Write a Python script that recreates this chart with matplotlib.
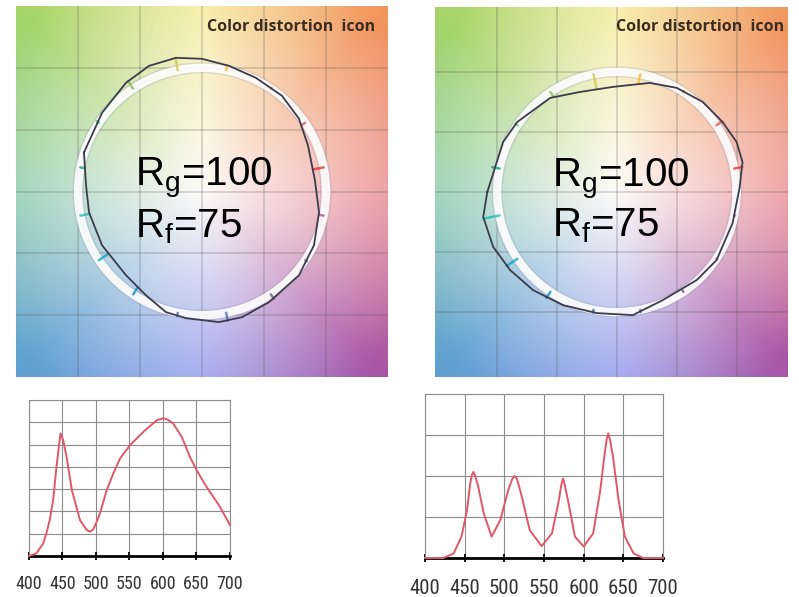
import numpy as np
import matplotlib.pyplot as plt
from matplotlib import font_manager

plt.rcParams['font.family'] = ['Liberation Sans', 'DejaVu Sans']
plt.rcParams['mathtext.fontset'] = 'custom'
plt.rcParams['mathtext.rm'] = 'Liberation Sans'
plt.rcParams['mathtext.it'] = 'Liberation Sans'
plt.rcParams['mathtext.default'] = 'regular'

# 16 hue bins of the colour vector graphic
bin_angles = np.arange(16) * 22.5 + 11.25
bin_colors = ['#e62828', '#e74b4b', '#fb812e', '#ffb529', '#cbca46', '#7eb94c',
              '#41c06d', '#009c7c', '#16bcb0', '#00a4bf', '#0085c3', '#3b62aa',
              '#4568ae', '#6a4e85', '#9d69a1', '#a74f81']

# test source contours (reference circle has radius 1)
left_x = [-0.952, -0.806, -0.613, -0.427, -0.210, 0.000, 0.218, 0.435, 0.645, 0.782,
          0.855, 0.911, 0.944, 0.903, 0.782, 0.540, 0.323, 0.137, -0.129, -0.290,
          -0.452, -0.613, -0.806, -0.911, -0.935]
left_y = [0.315, 0.637, 0.879, 1.016, 1.081, 1.073, 1.016, 0.919, 0.774, 0.589,
          0.371, 0.089, -0.169, -0.435, -0.677, -0.895, -1.016, -1.056, -1.024, -0.976,
          -0.839, -0.677, -0.435, -0.169, 0.048]
right_x = [-1.083, -0.950, -0.833, -0.558, -0.308, -0.033, 0.275, 0.500, 0.717, 0.883,
           1.000, 1.050, 1.025, 0.967, 0.833, 0.667, 0.383, 0.133, -0.167, -0.450,
           -0.700, -0.892, -1.033, -1.117]
right_y = [0.000, 0.417, 0.583, 0.783, 0.833, 0.875, 0.908, 0.867, 0.750, 0.583,
           0.417, 0.250, 0.033, -0.258, -0.567, -0.733, -0.900, -1.025, -1.008, -0.942,
           -0.817, -0.650, -0.458, -0.208]

rg_values = [100, 100]
rf_values = [75, 75]

# spectral power distributions (relative)
left_nm = [400, 411, 421, 426, 431, 436, 441, 444, 447, 451, 456, 464, 476, 486, 491,
           496, 501, 506, 516, 526, 536, 551, 571, 591, 601, 607, 615, 628, 640, 650,
           665, 685, 700]
left_pw = [0, 0.12, 0.55, 1.02, 1.62, 2.5, 4.0, 4.75, 5.5, 5.2, 4.46, 2.96, 1.62, 1.17,
           1.09, 1.2, 1.54, 1.92, 2.96, 3.71, 4.38, 4.98, 5.58, 6.1, 6.18, 6.12, 5.95,
           5.35, 4.46, 3.86, 3.1, 2.21, 1.39]
right_nm = [400, 423, 436, 446, 453, 457, 459, 461, 463, 467, 474, 484, 495, 505,
            510, 513, 516, 522, 532, 547, 560, 568, 572, 574, 576, 581, 589, 600,
            612, 621, 626, 629, 631, 633, 637, 644, 652, 663, 675, 700]
right_pw = [0, 0, 0.11, 0.52, 1.17, 1.82, 2.02, 2.1, 2.02, 1.75, 1.09, 0.52, 0.93, 1.66,
            1.93, 2.0, 1.93, 1.5, 0.68, 0.29, 0.6, 1.33, 1.8, 1.94, 1.8, 1.33, 0.52, 0.28,
            0.6, 1.66, 2.47, 2.9, 3.04, 2.9, 2.47, 1.41, 0.52, 0.11, 0, 0]

# background hue field anchors (angle in degrees, rgb at the rim)
hue_anchor_deg = [0, 45, 90, 135, 180, 225, 270, 315, 360]
hue_anchor_rgb = [(235, 135, 140), (242, 150, 95), (246, 236, 150), (165, 212, 105),
                  (135, 202, 170), (95, 160, 210), (140, 150, 238), (170, 85, 165),
                  (235, 135, 140)]


def first_font(names, default):
    for name in names:
        try:
            font_manager.findfont(font_manager.FontProperties(family=name),
                                  fallback_to_default=False)
            return name
        except ValueError:
            pass
    return default


NARROW = first_font(['Liberation Sans Narrow', 'Roboto Condensed', 'Open Sans Condensed',
                     'Arial Narrow'], None)
LABEL_FONT = first_font(['Open Sans', 'Lato'], 'DejaVu Sans')


def hue_field(n=320, lim=1.6):
    g = np.linspace(-lim, lim, n)
    X, Y = np.meshgrid(g, g)
    ang = np.degrees(np.arctan2(Y, X)) % 360
    r = np.hypot(X, Y)
    cols = np.array(hue_anchor_rgb) / 255.0
    rgb = np.stack([np.interp(ang, hue_anchor_deg, cols[:, i]) for i in range(3)], -1)
    t = (np.clip(r / 1.95, 0, 1) ** 1.05)[..., None]
    white = np.array([0.99, 0.98, 0.97])
    return (1 - t) * white + t * rgb


def draw_icon(ax, cx, cy, rg, rf, xlim, ylim):
    ax.imshow(hue_field(), extent=(-1.6, 1.6, -1.6, 1.6), origin='lower',
              interpolation='bilinear', zorder=0)
    for v in [-1.0, -0.5, 0.0, 0.5, 1.0]:
        ax.axvline(v, color='#505050', alpha=0.27, lw=1.1, zorder=1)
        ax.axhline(v, color='#505050', alpha=0.27, lw=1.1, zorder=1)

    # reference circle as a white band
    th = np.radians(np.linspace(0, 360, 361))
    ax.plot(np.cos(th), np.sin(th), color='#9090a8', alpha=0.25, lw=8, zorder=2)
    ax.plot(np.cos(th), np.sin(th), color='white', alpha=0.9, lw=6, zorder=2)

    # arrows from the reference circle to the test contour in each hue bin
    cx, cy = np.asarray(cx), np.asarray(cy)
    ca = np.degrees(np.arctan2(cy, cx)) % 360
    cr = np.hypot(cx, cy)
    order = np.argsort(ca)
    r_bin = np.interp(bin_angles, ca[order], cr[order], period=360)
    a = np.radians(bin_angles)
    for k in range(16):
        ax.plot([np.cos(a[k]), r_bin[k] * np.cos(a[k])],
                [np.sin(a[k]), r_bin[k] * np.sin(a[k])], color=bin_colors[k],
                alpha=0.75, lw=1.8, solid_capstyle='round', zorder=3)
    ax.plot(np.append(cx, cx[0]), np.append(cy, cy[0]), color='#3c3c4c',
            lw=1.3, zorder=4)

    ax.text(1.40, ylim[1] - 0.17, 'Color distortion  icon', ha='right', va='center',
            fontsize=11.5, fontweight='bold', family=[LABEL_FONT, 'DejaVu Sans'],
            color='#3a2c20', zorder=5)
    ax.text(-0.54, 0.05, 'R$_g$=%d' % rg, fontsize=29, ha='left', va='baseline', zorder=5)
    ax.text(-0.54, -0.37, 'R$_f$=%d' % rf, fontsize=29, ha='left', va='baseline', zorder=5)
    ax.set_xlim(*xlim)
    ax.set_ylim(*ylim)
    ax.set_aspect('auto')
    ax.axis('off')


def draw_spd(ax, nm, pw, ymax, labelsize, pad):
    ax.plot(nm, pw, color='#e05868', lw=1.4, zorder=3, clip_on=False)
    ax.set_xlim(400, 700)
    ax.set_ylim(0, ymax)
    ax.set_xticks(range(400, 701, 50))
    ax.set_yticks(range(ymax + 1))
    ax.grid(color='#8c8c8c', lw=0.8)
    ax.set_axisbelow(True)
    ax.tick_params(axis='y', left=False, labelleft=False)
    size = labelsize if NARROW else labelsize * 0.85
    ax.tick_params(axis='x', direction='inout', length=6, width=1.3, color='black',
                   labelsize=size, pad=pad, labelcolor='#333333')
    for lab in ax.get_xticklabels():
        lab.set_family([NARROW or 'Liberation Sans', 'DejaVu Sans'])
    for s in ['top', 'right', 'left']:
        ax.spines[s].set_color('#8c8c8c')
        ax.spines[s].set_linewidth(0.8)
    ax.spines['bottom'].set_color('black')
    ax.spines['bottom'].set_linewidth(2)


fig = plt.figure(figsize=(7.99, 5.97), dpi=100)
W, H = 799, 597


def px_axes(x0, y0, x1, y1):
    return fig.add_axes([x0 / W, 1 - y1 / H, (x1 - x0) / W, (y1 - y0) / H])


# tail of a heading that sits just above the top edge
fig.text(47 / W, 1 + 4 / H, 'g', fontsize=14, fontweight='bold', ha='left', va='baseline')

ax1 = px_axes(16, 6, 388, 377)
draw_icon(ax1, left_x, left_y, rg_values[0], rf_values[0], (-1.5, 1.5), (-1.5, 1.5))
ax2 = px_axes(435, 7, 788, 377)
draw_icon(ax2, right_x, right_y, rg_values[1], rf_values[1], (-1.52, 1.43), (-1.54, 1.54))

ax3 = px_axes(29, 400, 230, 556)
draw_spd(ax3, left_nm, left_pw, 7, 13, 11)
ax4 = px_axes(425, 394, 663, 558)
draw_spd(ax4, right_nm, right_pw, 4, 15, 12)

fig.savefig('out.png', dpi=100)
